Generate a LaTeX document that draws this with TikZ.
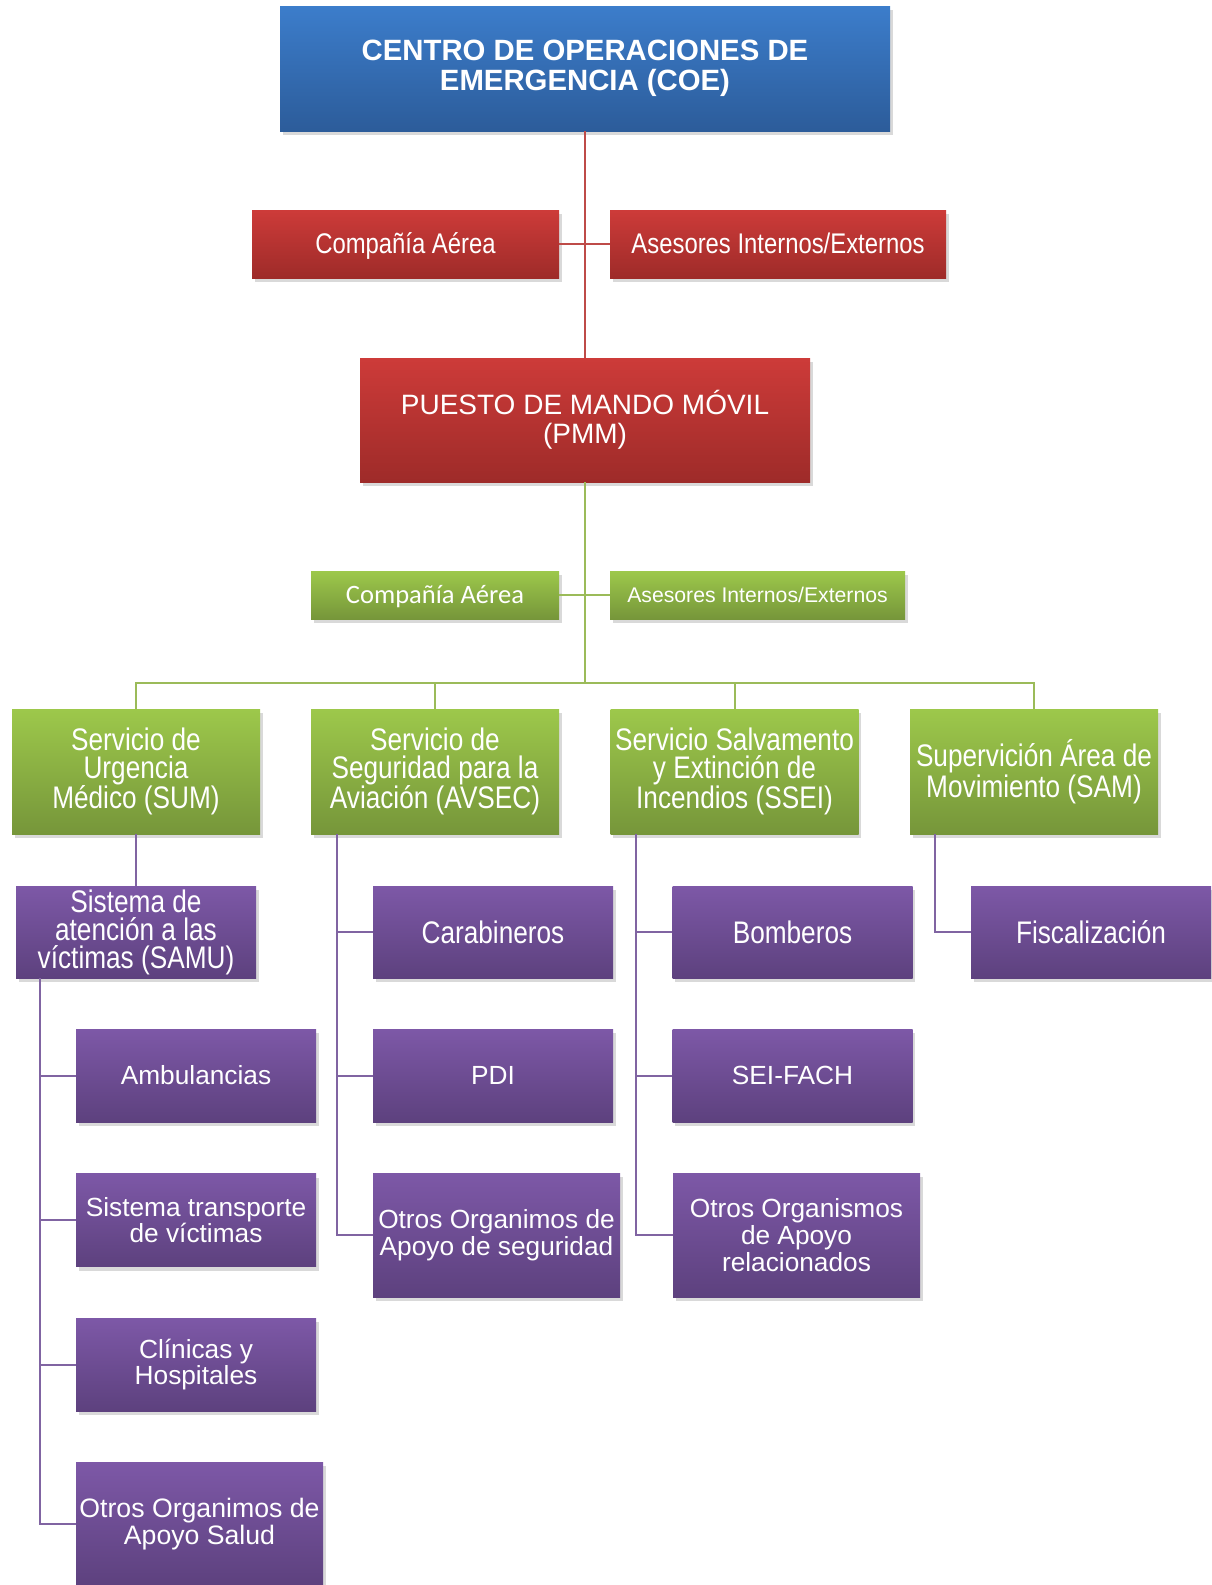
\documentclass[tikz,border=0pt]{standalone}
\usepackage{fontspec}
\setmainfont{Liberation Sans}
\newfontfamily\angosta{Liberation Sans}[FakeStretch=0.84]
\newfontfamily\calibri{Carlito}
\usetikzlibrary{shadows}

\definecolor{azulA}{HTML}{3C7DCB}
\definecolor{azulB}{HTML}{2C5C9A}
\definecolor{rojoA}{HTML}{CD3B39}
\definecolor{rojoB}{HTML}{9E2B29}
\definecolor{verdeA}{HTML}{9DC84B}
\definecolor{verdeB}{HTML}{76963A}
\definecolor{moradoA}{HTML}{7D58A7}
\definecolor{moradoB}{HTML}{5D417E}
\definecolor{lrojo}{HTML}{BE4B48}
\definecolor{lverde}{HTML}{9BBB59}
\definecolor{lmorado}{HTML}{8064A2}

\begin{document}
\begin{tikzpicture}[x=0.75pt, y=-0.75pt,
    caja/.style={rectangle, inner sep=0pt, align=center, text=white,
                 drop shadow={shadow xshift=2pt, shadow yshift=-3pt, opacity=0.3}},
    azul/.style={caja, top color=azulA, bottom color=azulB},
    rojo/.style={caja, top color=rojoA, bottom color=rojoB},
    verde/.style={caja, top color=verdeA, bottom color=verdeB},
    morado/.style={caja, top color=moradoA, bottom color=moradoB},
    linea/.style={text height=#1, text depth=3.5pt},
    nivel/.style={verde, minimum width=186pt, minimum height=93.75pt,
                  font=\angosta\fontsize{23.4}{21}\selectfont},
    unidad/.style={morado, minimum width=180pt, minimum height=69.75pt,
                   font=\fontsize{19.7}{20}\selectfont},
    unidadalta/.style={morado, minimum width=185.25pt, minimum height=93pt,
                       font=\fontsize{19.7}{20}\selectfont},
    cabeza/.style={morado, minimum width=180pt, minimum height=69pt,
                   font=\angosta\fontsize{23.4}{21}\selectfont},
    conrojo/.style={draw=lrojo, line width=1.5pt},
    converde/.style={draw=lverde, line width=1.5pt},
    conmorado/.style={draw=lmorado, line width=1.5pt}
]
\useasboundingbox (0,0) rectangle (1211,1585);

% Mando superior
\node[azul, minimum width=457.5pt, minimum height=93.75pt,
      font=\bfseries\fontsize{22}{22.5}\selectfont] at (585,68.5) (coe)
    {CENTRO DE OPERACIONES DE\\EMERGENCIA (COE)};

\node[rojo, linea=17.5pt, minimum width=230.25pt, minimum height=51pt,
      font=\angosta\fontsize{21.3}{22}\selectfont] at (405.5,244) (rcomp)
    {Compañía Aérea};
\node[rojo, linea=17.5pt, minimum width=252pt, minimum height=51pt,
      font=\angosta\fontsize{21.3}{22}\selectfont] at (778,244) (rases)
    {Asesores Internos/Externos};

\node[rojo, minimum width=337.5pt, minimum height=93pt,
      font=\fontsize{21}{22}\selectfont] at (585,420) (pmm)
    {PUESTO DE MANDO MÓVIL\\(PMM)};

\node[verde, linea=16pt, minimum width=186pt, minimum height=36pt,
      font=\calibri\fontsize{19.9}{20}\selectfont] at (435,595) (gcomp)
    {Compañía Aérea};
\node[verde, linea=14.5pt, minimum width=221.25pt, minimum height=36pt,
      font=\fontsize{15.9}{16}\selectfont] at (757.5,595) (gases)
    {Asesores Internos/Externos};

% Servicios
\node[nivel] at (136,771.5) (sum) {Servicio de\\Urgencia\\Médico (SUM)};
\node[nivel] at (435,771.5) (avsec) {Servicio de\\Seguridad para la\\Aviación (AVSEC)};
\node[nivel] at (734.5,771.5) (ssei) {Servicio Salvamento\\y Extinción de\\Incendios (SSEI)};
\node[nivel] at (1034,771.5) (sam) {Supervición Área de\\Movimiento (SAM)};

% Unidades de apoyo
\node[cabeza] at (136,932) (samu) {Sistema de\\atención a las\\víctimas (SAMU)};
\node[unidad] at (196,1075.5) (ambu) {Ambulancias};
\node[unidad] at (196,1220) (trans) {Sistema transporte\\de víctimas};
\node[unidad] at (196,1364.5) (clin) {Clínicas y\\Hospitales};
\node[unidadalta, font=\fontsize{20}{20.5}\selectfont] at (199.5,1524) (osalud)
    {Otros Organimos de\\Apoyo Salud};

\node[cabeza] at (493,932) (carab) {Carabineros};
\node[unidad] at (493,1075.5) (pdi) {PDI};
\node[unidadalta] at (496.5,1235) (oseg) {Otros Organimos de\\Apoyo de seguridad};

\node[cabeza] at (792.5,932) (bomb) {Bomberos};
\node[unidad] at (792.5,1075.5) (sei) {SEI-FACH};
\node[unidadalta] at (796.5,1235) (orel) {Otros Organismos\\de Apoyo\\relacionados};

\node[cabeza] at (1091,932) (fisc) {Fiscalización};

% Conectores
\draw[conrojo] (coe.south) -- (pmm.north);
\draw[conrojo] (rcomp.east) -- (rases.west);

\coordinate (barra) at (585,683);
\draw[converde] (pmm.south) -- (barra);
\draw[converde] (gcomp.east) -- (gases.west);
\foreach \n in {sum,avsec,ssei,sam} {
    \draw[converde] (barra) -| (\n.north);
}

\draw[conmorado] (sum.south) -- (samu.north);
\foreach \n in {ambu,trans,clin,osalud} {
    \draw[conmorado] ([xshift=18pt]samu.south west) |- (\n.west);
}
\foreach \n in {carab,pdi,oseg} {
    \draw[conmorado] ([xshift=19.5pt]avsec.south west) |- (\n.west);
}
\foreach \n in {bomb,sei,orel} {
    \draw[conmorado] ([xshift=19.5pt]ssei.south west) |- (\n.west);
}
\draw[conmorado] ([xshift=18.75pt]sam.south west) |- (fisc.west);

\end{tikzpicture}
\end{document}
